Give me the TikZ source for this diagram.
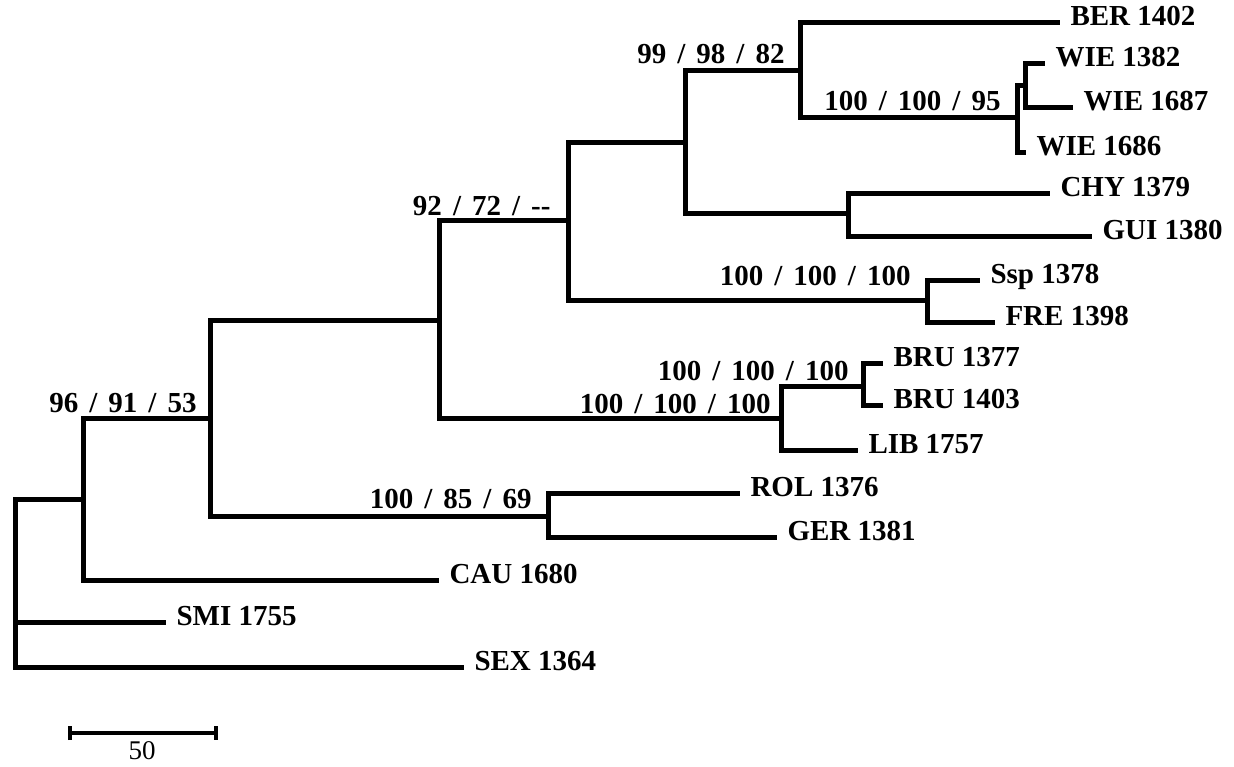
\documentclass[tikz,border=0pt]{standalone}
\usepackage{fontspec}
\setmainfont{Liberation Serif}
\usetikzlibrary{arrows.meta}
\newcommand{\bsep}{\hspace{0.38em}/\hspace{0.38em}}

\begin{document}
\begin{tikzpicture}[x=1pt, y=-1pt, line width=5pt,
	   leaf/.style={anchor=west, inner xsep=8pt, inner ysep=0pt, font=\fontsize{29}{30}\selectfont\bfseries, text height=0.68em, text depth=0pt},
	   supp/.style={anchor=base east, inner sep=0pt, font=\fontsize{29}{30}\selectfont\bfseries}]
	  \useasboundingbox (0,0) rectangle (1234,766);
	  % taxa
	  \node[leaf] (ber) at (1060,22) {BER 1402};
	  \node[leaf] (wie1382) at (1045,63) {WIE 1382};
	  \node[leaf] (wie1687) at (1073,107) {WIE 1687};
	  \node[leaf] (wie1686) at (1026,152) {WIE 1686};
	  \node[leaf] (chy) at (1050,193) {CHY 1379};
	  \node[leaf] (gui) at (1092,236) {GUI 1380};
	  \node[leaf] (ssp) at (980,280) {Ssp 1378};
	  \node[leaf] (fre) at (995,322) {FRE 1398};
	  \node[leaf] (bru1377) at (883,363) {BRU 1377};
	  \node[leaf] (bru1403) at (883,405) {BRU 1403};
	  \node[leaf] (lib) at (858,450) {LIB 1757};
	  \node[leaf] (rol) at (740,493) {ROL 1376};
	  \node[leaf] (ger) at (777,537) {GER 1381};
	  \node[leaf] (cau) at (439,580) {CAU 1680};
	  \node[leaf] (smi) at (166,622) {SMI 1755};
	  \node[leaf] (sex) at (464,667) {SEX 1364};
	  % internal nodes
	  \coordinate (root) at (15,622);
	  \coordinate (n96) at (83,499);
	  \coordinate (n210) at (210,418);
	  \coordinate (n92) at (439,320);
	  \coordinate (n570) at (568,220);
	  \coordinate (n99) at (685,142);
	  \coordinate (nbw) at (800,70);
	  \coordinate (nwie) at (1017,117);
	  \coordinate (nwiein) at (1025,85);
	  \coordinate (ncg) at (848,213);
	  \coordinate (nsf) at (927,300);
	  \coordinate (nbl) at (781,418);
	  \coordinate (nbru) at (863,386);
	  \coordinate (nrg) at (548,516);
	  % branches
	  \draw (root) |- (n96) (root) -- (smi.west) (root) |- (sex.west);
	  \draw (n96) |- (n210) (n96) |- (cau.west);
	  \draw (n210) |- (n92) (n210) |- (nrg);
	  \draw (nrg) |- (rol.west) (nrg) |- (ger.west);
	  \draw (n92) |- (n570) (n92) |- (nbl);
	  \draw (nbl) |- (nbru) (nbl) |- (lib.west);
	  \draw (nbru) |- (bru1377.west) (nbru) |- (bru1403.west);
	  \draw (n570) |- (n99) (n570) |- (nsf);
	  \draw (nsf) |- (ssp.west) (nsf) |- (fre.west);
	  \draw (n99) |- (nbw) (n99) |- (ncg);
	  \draw (ncg) |- (chy.west) (ncg) |- (gui.west);
	  \draw (nbw) |- (ber.west) (nbw) |- (nwie);
	  \draw (nwie) |- (nwiein) (nwie) |- (wie1686.west);
	  \draw (nwiein) |- (wie1382.west) (nwiein) |- (wie1687.west);
	  % support values
	  \node[supp] (s99) at (787,63) {99\bsep 98\bsep 82};
	  \node[supp] (swie) at (1003,110) {100\bsep 100\bsep 95};
	  \node[supp] (s92) at (553,215) {92\bsep 72\bsep -{}-};
	  \node[supp] (ssf) at (913,285) {100\bsep 100\bsep 100};
	  \node[supp] (sbru) at (851,380) {100\bsep 100\bsep 100};
	  \node[supp] (sbl) at (773,413) {100\bsep 100\bsep 100};
	  \node[supp] (s96) at (199,412) {96\bsep 91\bsep 53};
	  \node[supp] (srg) at (534,508) {100\bsep 85\bsep 69};
	  % scale bar
	  \coordinate (sbarl) at (68,733);
	  \coordinate (sbarr) at (218,733);
	  \draw[line width=4pt, {Bar[width=14pt]}-{Bar[width=14pt]}] (sbarl) -- (sbarr);
	  \node[inner sep=0pt, font=\fontsize{27}{28}\selectfont, text height=0.68em, text depth=0pt] (sbarlab) at (142,756) {50};
	\end{tikzpicture}
\end{document}
